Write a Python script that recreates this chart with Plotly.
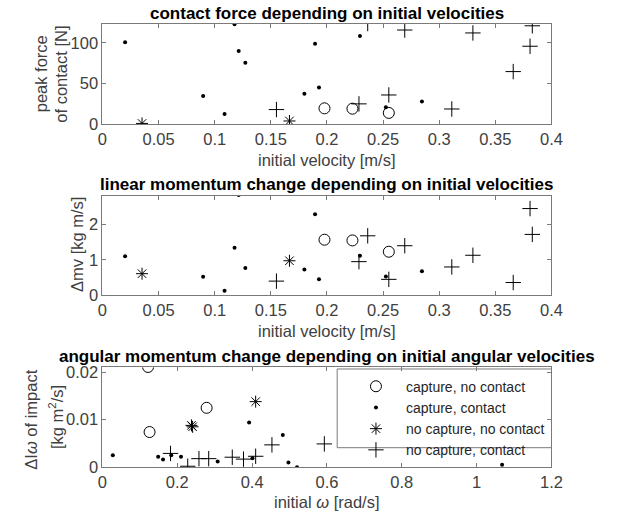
import plotly.graph_objects as go

# ---------------- data ----------------
# top: peak force vs initial velocity
v_cnc = [0.1978, 0.2227, 0.2551]
f_cnc = [19.5, 19.1, 13.9]
v_cc = [0.0202, 0.0897, 0.1088, 0.1177, 0.1214, 0.1273, 0.1799, 0.1894, 0.1929, 0.2294, 0.2525, 0.2846]
f_cc = [100.5, 34.7, 12.7, 122.7, 90.0, 75.3, 37.4, 98.8, 45.0, 108.4, 20.7, 27.9]
v_ncnc = [0.0353, 0.1666]
f_ncnc = [1.0, 4.0]
v_ncc = [0.1550, 0.2285, 0.2363, 0.2551, 0.2693, 0.3112, 0.3300, 0.3659, 0.3809, 0.3829]
f_ncc = [18.0, 25.0, 123.6, 35.9, 115.6, 18.7, 112.0, 64.6, 95.7, 120.8]

# middle: linear momentum change vs initial velocity
mv_cnc = [1.57, 1.55, 1.23]
mv_cc = [1.10, 0.52, 0.13, 1.34, 2.83, 0.77, 0.73, 2.29, 0.45, 1.12, 0.53, 0.68]
mv_ncnc = [0.61, 0.975]
mv_ncc = [0.40, 0.95, 1.68, 0.45, 1.40, 0.80, 1.13, 0.36, 2.45, 1.72]

# bottom: angular momentum change vs initial angular velocity
w_cnc = [0.122, 0.126, 0.2785]
l_cnc = [0.0211, 0.0074, 0.0125]
w_cc = [0.0278, 0.149, 0.162, 0.184, 0.210, 0.308, 0.392, 0.401, 0.482, 0.497, 0.520, 1.068]
l_cc = [0.00253, 0.0022, 0.0016, 0.0025, 0.0022, 0.0012, 0.0094, 0.0019, 0.0068, 0.0010, 0.0000, 0.0005]
w_ncnc = [0.238, 0.241, 0.4095]
l_ncnc = [0.0088, 0.0085, 0.0138]
w_ncc = [0.182, 0.228, 0.258, 0.284, 0.347, 0.377, 0.4095, 0.453, 0.593]
l_ncc = [0.0029, 0.0002, 0.0018, 0.0018, 0.0021, 0.0017, 0.0023, 0.0047, 0.0049]

names = ["capture, no contact", "capture, contact", "no capture, no contact", "no capture, contact"]

FONT = "Liberation Sans, Arial, sans-serif"
FS = 16.5
styles = [
    dict(symbol="circle-open", size=11, color="black", line=dict(width=1, color="black")),
    dict(symbol="circle", size=4, color="black"),
    dict(symbol="asterisk-open", size=10, color="black", line=dict(width=1, color="black")),
    dict(symbol="cross-thin-open", size=11, color="black", line=dict(width=1, color="black")),
]

fig = go.Figure()

panels = [
    ("x", "y", [v_cnc, v_cc, v_ncnc, v_ncc], [f_cnc, f_cc, f_ncnc, f_ncc], False),
    ("x2", "y2", [v_cnc, v_cc, v_ncnc, v_ncc], [mv_cnc, mv_cc, mv_ncnc, mv_ncc], False),
    ("x3", "y3", [w_cnc, w_cc, w_ncnc, w_ncc], [l_cnc, l_cc, l_ncnc, l_ncc], True),
]
for xa, ya, xs, ys, leg in panels:
    for i in range(4):
        fig.add_trace(go.Scatter(
            x=xs[i], y=ys[i], mode="markers", marker=styles[i], name=names[i],
            xaxis=xa, yaxis=ya, showlegend=leg, legendgroup=names[i],
        ))

W, H = 619, 523
xd = [100 / W, 561 / W]
def yd(top, bot):
    return [1 - bot / H, 1 - top / H]

axcommon = dict(showline=True, linecolor="#7a7a7a", linewidth=1, mirror="ticks",
                ticks="inside", ticklen=4, tickcolor="#7a7a7a", showgrid=False,
                zeroline=False, tickfont=dict(family=FONT, size=FS, color="#404040"))

fig.update_layout(
    width=W, height=H, margin=dict(l=0, r=0, t=0, b=0),
    plot_bgcolor="white", paper_bgcolor="white",
    font=dict(family=FONT, size=FS, color="#404040"),
    xaxis=dict(domain=xd, range=[0, 0.4], dtick=0.05, anchor="y", **axcommon),
    yaxis=dict(domain=yd(20, 123.3), range=[0, 123.6], tickvals=[0, 50, 100], anchor="x", **axcommon),
    xaxis2=dict(domain=xd, range=[0, 0.4], dtick=0.05, anchor="y2", **axcommon),
    yaxis2=dict(domain=yd(196.7, 298.7), range=[0, 2.81], tickvals=[0, 1, 2], anchor="x2", **axcommon),
    xaxis3=dict(domain=xd, range=[0, 1.2], dtick=0.2, anchor="y3", **axcommon),
    yaxis3=dict(domain=yd(372.7, 475), range=[0, 0.021], tickvals=[0, 0.01, 0.02], anchor="x3", **axcommon),
    legend=dict(x=350 / W, y=1 - 376 / H, xanchor="left", yanchor="top",
                borderwidth=0, bgcolor="rgba(0,0,0,0)", itemwidth=50,
                font=dict(family=FONT, size=14, color="#262626"), tracegroupgap=0),
    showlegend=True,
)

# legend frame (as in reference)
fig.add_shape(type="rect", xref="paper", yref="paper",
              x0=341 / W, x1=561 / W, y0=1 - 455 / H, y1=1 - 374.3 / H,
              line=dict(color="#7a7a7a", width=1), fillcolor="white", layer="below")

def txt(x, y, s, size=FS, bold=False, angle=0, color="#404040"):
    fig.add_annotation(x=x / W, y=1 - y / H, xref="paper", yref="paper", text=("<b>%s</b>" % s) if bold else s,
                       showarrow=False, textangle=angle, xanchor="center", yanchor="middle",
                       font=dict(family=FONT, size=size, color=color))

cx = 330.5
TS = 17
txt(cx, 10, "contact force depending on initial velocities", size=TS, bold=True, color="black")
txt(cx, 185, "linear momentum change depending on initial velocities", size=TS, bold=True, color="black")
txt(cx, 361, "angular momentum change depending on initial angular velocities", size=TS, bold=True, color="black")
txt(cx, 160, "initial velocity [m/s]")
txt(cx, 335, "initial velocity [m/s]")
txt(cx, 511, "initial <i>ω</i> [rad/s]")
txt(37, 72, "peak force", angle=-90)
txt(58, 72, "of contact [N]", angle=-90)
txt(74, 247, "Δmv [kg m/s]", angle=-90)
txt(27, 426, "ΔI<i>ω</i> of impact", angle=-90)
txt(53, 424, "[kg m<sup>2</sup>/s]", angle=-90)

fig.write_html("out.html")
